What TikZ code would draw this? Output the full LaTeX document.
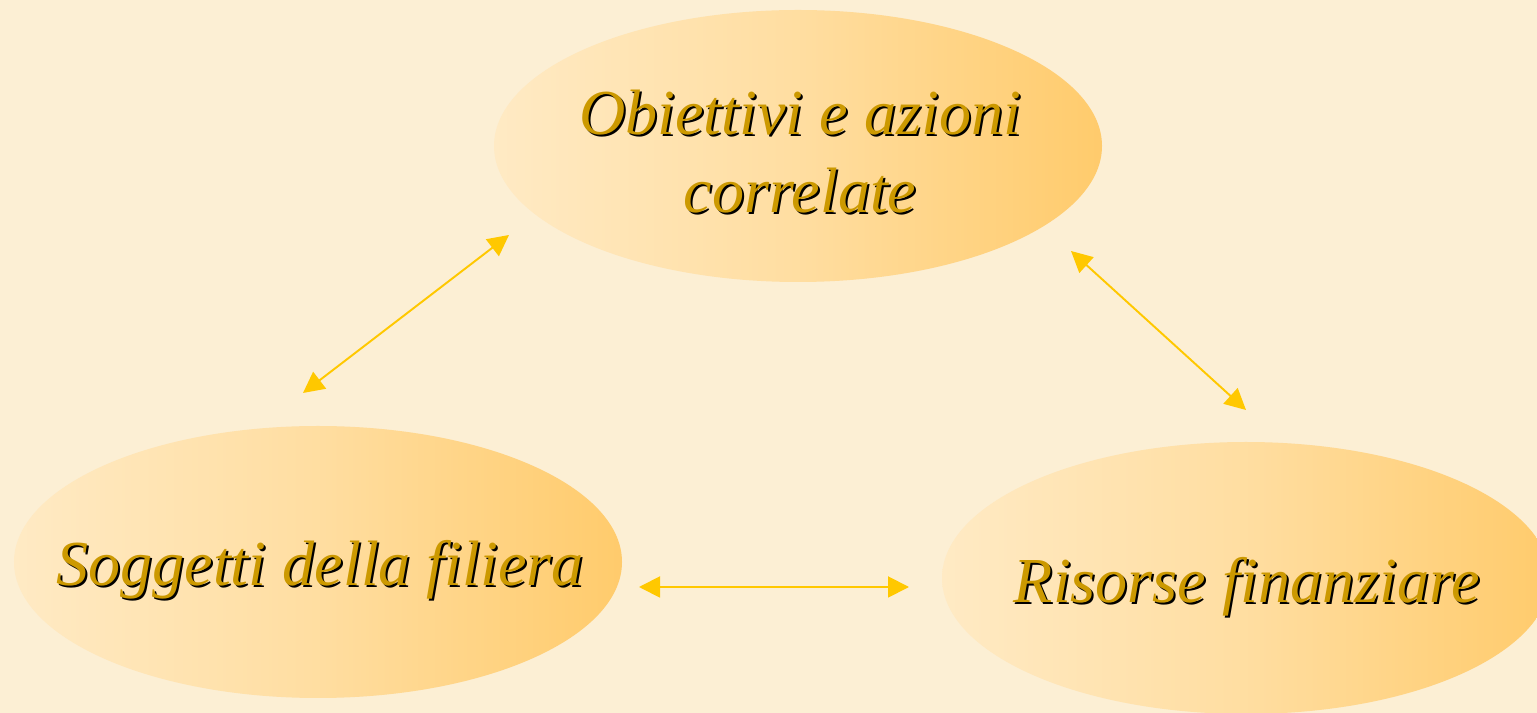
\documentclass[tikz,border=0pt]{standalone}
\usepackage{fontspec}
\setmainfont{Liberation Serif}
\usetikzlibrary{shapes.geometric,arrows.meta}
\definecolor{sfondo}{HTML}{FCEFD4}
\definecolor{chiaro}{HTML}{FFEAC4}
\definecolor{scuro}{HTML}{FFCB6C}
\definecolor{oro}{HTML}{CC9900}
\definecolor{giallo}{HTML}{FFC800}

\begin{document}
\begin{tikzpicture}
\tikzset{ovale/.style={ellipse, minimum width=12.16cm, minimum height=5.44cm, inner sep=0pt, left color=chiaro, right color=scuro, middle color=scuro!40!chiaro}}
\tikzset{testo/.style={font=\fontsize{36.5}{44}\selectfont\itshape, text=oro, align=center}}
\tikzset{ombra/.style={testo, text=black, xshift=0.04cm, yshift=-0.04cm}}
\tikzset{freccia/.style={draw=giallo, line width=1.1pt, {Triangle[length=0.42cm, width=0.42cm]}-{Triangle[length=0.42cm, width=0.42cm]}}}
\fill[sfondo] (0, 0) rectangle (30.74, 14.26);
\clip (0, 0) rectangle (30.74, 14.26);
\node[ovale] (O1) at (15.96, 11.34) {};
\node[ovale] (O2) at (6.36, 3.02) {};
\node[ovale] (O3) at (24.92, 2.70) {};
\node[ombra] at (16.00, 11.23) {Obiettivi e azioni\\correlate};
\node[testo] (T1) at (16.00, 11.23) {Obiettivi e azioni\\correlate};
\node[ombra] at (6.40, 2.86) {Soggetti della filiera};
\node[testo] (T2) at (6.40, 2.86) {Soggetti della filiera};
\node[ombra] at (24.94, 2.52) {Risorse finanziare};
\node[testo] (T3) at (24.94, 2.52) {Risorse finanziare};
\coordinate (A1) at (6.06, 6.40);
\coordinate (B1) at (10.18, 9.56);
\coordinate (A2) at (21.42, 9.24);
\coordinate (B2) at (24.92, 6.06);
\coordinate (A3) at (12.78, 2.52);
\coordinate (B3) at (18.18, 2.52);
\draw[freccia] (A1) -- (B1);
\draw[freccia] (A2) -- (B2);
\draw[freccia] (A3) -- (B3);
\end{tikzpicture}
\end{document}
